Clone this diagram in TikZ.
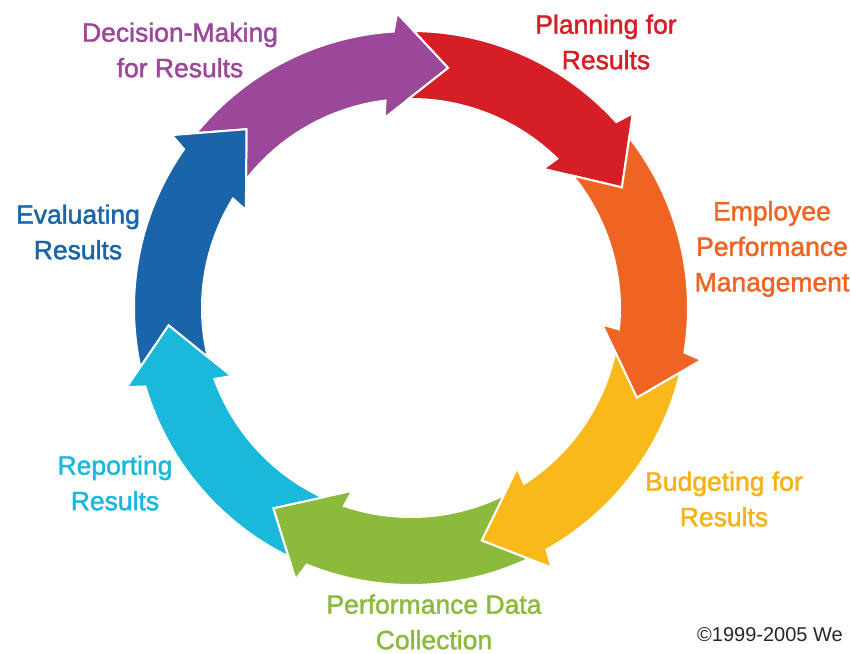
\documentclass[tikz,border=0pt]{standalone}
\usepackage{fontspec}
\newfontfamily\lblfont[FakeBold=1.6]{Liberation Sans}
\newfontfamily\smallfont{Liberation Sans}

\definecolor{cpurple}{RGB}{155,72,155}
\definecolor{cred}{RGB}{213,30,38}
\definecolor{corange}{RGB}{240,100,35}
\definecolor{cyellow}{RGB}{249,185,26}
\definecolor{cgreen}{RGB}{140,186,60}
\definecolor{ccyan}{RGB}{26,185,220}
\definecolor{cblue}{RGB}{26,100,170}
\definecolor{cytext}{RGB}{246,176,24}

\tikzset{
  seg/.style={fill=#1, draw=white, line width=1pt, line join=miter},
  lbl/.style={text=#1, align=center, inner sep=0pt,
    font=\lblfont\fontsize{13.25}{17.75}\selectfont},
}

\begin{document}
\begin{tikzpicture}[x=0.5pt, y=0.5pt]
	\useasboundingbox (-411,-345) rectangle (440,308);
	
	% Draw the ring of arrows
	\foreach \c [count=\i from 0] in {cpurple,cred,corange,cyellow,cgreen,ccyan,cblue}{
		\pgfmathsetmacro\t{81.2-51.43*\i}
		\pgfmathsetmacro\p{\t+51.43}
		\path[seg=\c] (\p:243) -- (\p+8.2:277)
			arc[start angle=\p+8.2, end angle=\t+12.4, radius=277]
			-- (\t+11.5:295) -- (\t:243) -- (\t+16.7:192) -- (\t+15.8:209)
			arc[start angle=\t+15.8, end angle=\p+9.5, radius=209] -- cycle;
	}
	
	% Draw labels
	\node[lbl=cpurple] (decision) at (-231,258) {Decision-Making\\for Results};
	\node[lbl=cred]    (planning) at (195,266)  {Planning for\\Results};
	\node[lbl=corange] (employee) at (361,59)   {Employee\\Performance\\Management};
	\node[lbl=cytext]  (budget)   at (313,-191) {Budgeting for\\Results};
	\node[lbl=cgreen]  (data)     at (23,-314)  {Performance Data\\Collection};
	\node[lbl=ccyan]   (report)   at (-296,-175) {Reporting\\Results};
	\node[lbl=cblue]   (evaluate) at (-333,76)  {Evaluating\\Results};
	
	\node[text=black!85, inner sep=0pt, font=\smallfont\fontsize{10}{12}\selectfont]
		(copy) at (359,-327) {©1999-2005 We};
\end{tikzpicture}
\end{document}
